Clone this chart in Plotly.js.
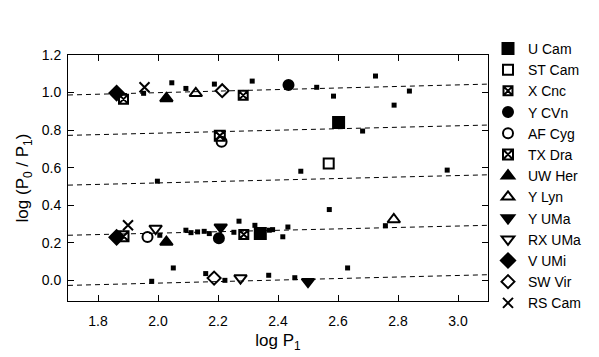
<!DOCTYPE html>
<html><head><meta charset="utf-8">
<script src="https://cdn.plot.ly/plotly-3.0.1.min.js"></script>
<style>html,body{margin:0;padding:0;background:#fff}#chart{width:599px;height:357px}</style>
</head><body><div id="chart"></div>
<script>
// dashed relation lines (endpoints)
const fitX = [1.7, 3.1];
const fitA = [0.987, 1.045];
const fitB = [0.772, 0.827];
const fitC = [0.507, 0.562];
const fitD = [0.240, 0.293];
const fitE = [-0.027, 0.030];

// unlabelled comparison stars (small squares)
const fieldX = [1.952, 2.046, 2.093, 2.188, 2.314, 2.529, 2.585, 2.725, 2.787, 2.838,
  2.682, 1.998, 2.476, 2.964,
  2.006, 2.093, 2.110, 2.132, 2.154, 2.171, 2.253, 2.270, 2.323, 2.371, 2.382, 2.416, 2.433, 2.571, 2.758,
  1.979, 2.051, 2.159, 2.223, 2.369, 2.456, 2.632];
const fieldY = [0.996, 1.052, 1.022, 1.045, 1.061, 1.028, 0.981, 1.088, 0.933, 1.008,
  0.795, 0.528, 0.581, 0.587,
  0.240, 0.267, 0.254, 0.258, 0.261, 0.249, 0.256, 0.315, 0.293, 0.267, 0.270, 0.232, 0.284, 0.377, 0.291,
  -0.005, 0.066, 0.036, 0.000, 0.027, 0.014, 0.066];

// named stars
const starNames = ["U Cam","ST Cam","X Cnc","Y CVn","AF Cyg","TX Dra","UW Her","Y Lyn","Y UMa","RX UMa","V UMi","SW Vir","RS Cam"];
const starX = [[2.602, 2.341],[2.569],[1.885, 2.284, 2.286],[2.435, 2.203],[2.212, 1.965],[2.206, 1.885],[2.028, 2.028],[2.126, 2.786],[2.209, 2.500],[1.992, 2.275],[1.862, 1.862],[2.214, 2.187],[1.955, 1.900]];
const starY = [[0.841, 0.249],[0.622],[0.965, 0.985, 0.244],[1.040, 0.224],[0.738, 0.231],[0.770, 0.235],[0.969, 0.204],[0.996, 0.324],[0.283, -0.007],[0.276, 0.012],[0.997, 0.229],[1.010, 0.012],[1.028, 0.293]];
const starSymbols = ["square","square-open","square-x-open","circle","circle-open","square-x-open","triangle-up","triangle-up-open","triangle-down","triangle-down-open","diamond","diamond-open","x-thin-open"];
const starSizes = [11,10,9,10,10,10,11,11,11,11,11,10,10];

const xTicks = [1.8, 2.0, 2.2, 2.4, 2.6, 2.8, 3.0];
const xTickText = ['1.8','2.0','2.2','2.4','2.6','2.8','3.0'];
const yTicks = [0, 0.2, 0.4, 0.6, 0.8, 1.0, 1.2];
const yTickText = ['0.0','0.2','0.4','0.6','0.8','1.0','1.2'];
const xRange = [1.7, 3.1];
const yRange = [-0.11, 1.2];

const traces = [];
[fitA, fitB, fitC, fitD, fitE].forEach(f => traces.push({
  x: fitX, y: f, mode: 'lines', showlegend: false, hoverinfo: 'skip',
  line: {color: '#000', width: 1, dash: '5px,4px'}
}));
traces.push({x: fieldX, y: fieldY, mode: 'markers', showlegend: false,
  marker: {symbol: 'square', size: 5, color: '#000'}});
starNames.forEach((n, i) => traces.push({
  x: starX[i], y: starY[i], mode: 'markers', name: n,
  marker: {symbol: starSymbols[i], size: starSizes[i], color: '#000',
    line: {color: '#000', width: 2}}
}));

const fontFam = 'Liberation Sans, Arial, sans-serif';
const layout = {
  width: 599, height: 357,
  margin: {l: 68, r: 109, t: 55, b: 56},
  paper_bgcolor: '#fff', plot_bgcolor: '#fff',
  font: {family: fontFam, color: '#000'},
  xaxis: {
    range: xRange, showgrid: false, zeroline: false, showline: true, linecolor: '#000', mirror: 'allticks',
    tickmode: 'array', tickvals: xTicks, ticktext: xTickText, ticks: 'inside', ticklen: 6,
    tickwidth: 1, tickcolor: '#000', ticklabelstandoff: 7,
    tickfont: {family: fontFam, size: 14, color: '#000'},
    title: {text: 'log P<sub>1</sub>', font: {size: 17}, standoff: 6}
  },
  yaxis: {
    range: yRange, showgrid: false, zeroline: false, showline: true, linecolor: '#000', mirror: 'allticks',
    tickmode: 'array', tickvals: yTicks, ticktext: yTickText, ticks: 'inside', ticklen: 6,
    tickwidth: 1, tickcolor: '#000', ticklabelstandoff: 3,
    tickfont: {family: fontFam, size: 14, color: '#000'},
    title: {text: 'log (P<sub>0</sub> / P<sub>1</sub>)', font: {size: 17}, standoff: 8}
  },
  legend: {x: 1.0, xanchor: 'left', y: 1.09, yanchor: 'top',
    maxheight: 320, font: {size: 14}, bgcolor: 'rgba(0,0,0,0)'},
  showlegend: true
};
Plotly.newPlot('chart', traces, layout, {displayModeBar: false, staticPlot: true});
</script></body></html>
